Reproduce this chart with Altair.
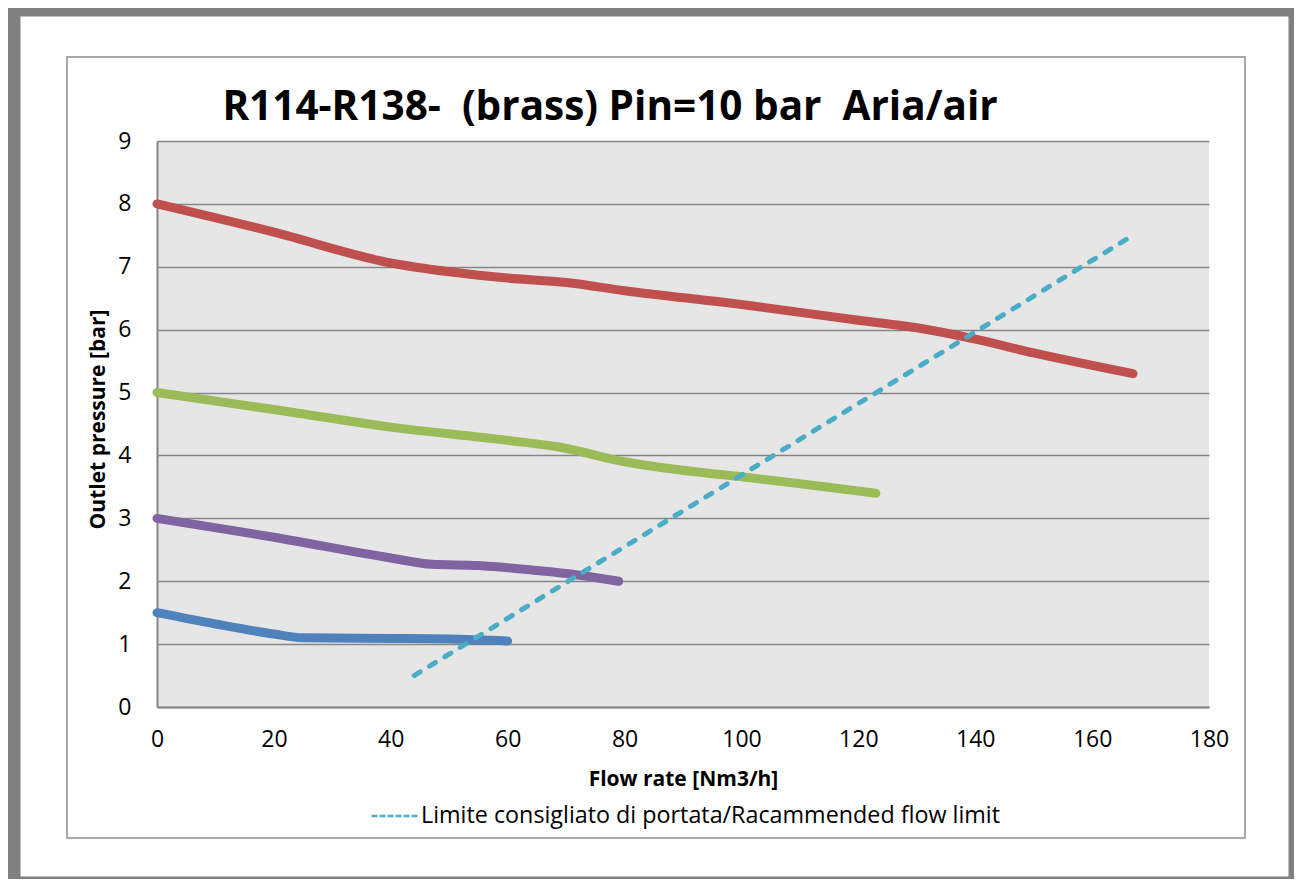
import altair as alt
import pandas as pd

# ---- data ----
red_flow = [0, 20, 40, 50, 60, 70, 80, 100, 120, 130, 140, 150, 167]
red_pres = [8.0, 7.55, 7.06, 6.92, 6.82, 6.75, 6.62, 6.4, 6.15, 6.03, 5.85, 5.63, 5.3]
green_flow = [0, 20, 40, 60, 69, 80, 92, 100, 123]
green_pres = [5.0, 4.73, 4.45, 4.24, 4.13, 3.9, 3.74, 3.66, 3.4]
purple_flow = [0, 20, 40, 47, 55, 65, 72, 79]
purple_pres = [3.0, 2.7, 2.37, 2.27, 2.25, 2.17, 2.1, 2.0]
blue_flow = [0, 10, 20, 25, 40, 50, 60]
blue_pres = [1.5, 1.32, 1.16, 1.1, 1.09, 1.08, 1.05]
limit_flow = [44, 167]
limit_pres = [0.5, 7.5]

x_ticks = [0, 20, 40, 60, 80, 100, 120, 140, 160, 180]
y_ticks = [0, 1, 2, 3, 4, 5, 6, 7, 8, 9]

title_text = "R114-R138- \u00a0(brass) Pin=10 bar \u00a0Aria/air"
x_title = "Flow rate [Nm3/h]"
y_title = "Outlet pressure [bar]"
limit_label = "Limite consigliato di portata/Racammended flow limit"

FONT = "Open Sans"
W, H = 1052, 566

xscale = alt.Scale(domain=[0, 180], nice=False)
yscale = alt.Scale(domain=[0, 9], nice=False)

xaxis = alt.Axis(values=x_ticks, title=x_title, grid=False, ticks=False, tickSize=0,
                 labelPadding=21, labelFontSize=23, labelFont=FONT, labelColor="black",
                 labelFlush=False, labelOverlap=False,
                 domainColor="#868686", domainWidth=2,
                 titleFont=FONT, titleFontSize=21, titleFontWeight="bold",
                 titleColor="black", titlePadding=17)
yaxis = alt.Axis(values=y_ticks, title=y_title, grid=True, gridColor="#868686", gridWidth=1.5,
                 ticks=False, tickSize=0, labelPadding=26, labelFontSize=23, labelFont=FONT,
                 labelColor="black", labelFlush=False, labelOverlap=False,
                 domainColor="#868686", domainWidth=2,
                 titleFont=FONT, titleFontSize=21, titleFontWeight="bold", titleColor="black",
                 titleAngle=-90, titleX=-59, titleY=278, titleAlign="center",
                 titleBaseline="middle")


def curve(flow, pres, color):
    df = pd.DataFrame({"flow": flow, "pres": pres})
    return alt.Chart(df).mark_line(
        strokeWidth=9, strokeCap="round", strokeJoin="round",
        interpolate="monotone", color=color
    ).encode(
        x=alt.X("flow:Q", scale=xscale, axis=xaxis),
        y=alt.Y("pres:Q", scale=yscale, axis=yaxis),
    )


deco = pd.DataFrame({"k": [0]})
outer = alt.Chart(deco).mark_rect(fill=None, stroke="#808080", strokeWidth=13).encode(
    x=alt.value(-143), x2=alt.value(1138), y=alt.value(-131), y2=alt.value(742))
inner = alt.Chart(deco).mark_rect(fill=None, stroke="#8c8c8c", strokeWidth=1.5).encode(
    x=alt.value(-90), x2=alt.value(1088), y=alt.value(-84), y2=alt.value(697))
title = alt.Chart(deco).mark_text(
    text=title_text, font=FONT, fontSize=40.5, fontWeight="bold", color="black",
    align="center", baseline="alphabetic"
).encode(x=alt.value(453), y=alt.value(-21))

red = curve(red_flow, red_pres, "#c0504d")
green = curve(green_flow, green_pres, "#9bbb59")
purple = curve(purple_flow, purple_pres, "#8064a2")
blue = curve(blue_flow, blue_pres, "#4f81bd")

limit_df = pd.DataFrame({"flow": limit_flow, "pres": limit_pres,
                         "name": [limit_label] * len(limit_flow)})
limit = alt.Chart(limit_df).mark_line(
    strokeWidth=5, strokeCap="round", strokeDash=[7, 11]
).encode(
    x=alt.X("flow:Q", scale=xscale, axis=xaxis),
    y=alt.Y("pres:Q", scale=yscale, axis=yaxis),
    color=alt.Color("name:N", scale=alt.Scale(domain=[limit_label], range=["#4bacc6"]),
                    legend=alt.Legend(title=None, orient="none", legendX=213, legendY=650,
                                      symbolType="stroke", symbolSize=2209,
                                      symbolStrokeWidth=2.5, symbolDash=[6, 2],
                                      symbolStrokeColor="#00b0f0",
                                      labelFont=FONT, labelFontSize=23.3, labelColor="black",
                                      labelOffset=1, padding=0, labelLimit=1000)),
)

chart = alt.layer(outer, inner, title, red, green, purple, blue, limit).properties(
    width=W, height=H,
    autosize=alt.AutoSizeParams(type="none"),
    padding={"left": 149, "top": 133, "right": 85, "bottom": 172},
).configure(background="white").configure_view(fill="#e6e6e6", stroke=None)

chart.save("out.html", embed_options={"renderer": "svg", "actions": False})
